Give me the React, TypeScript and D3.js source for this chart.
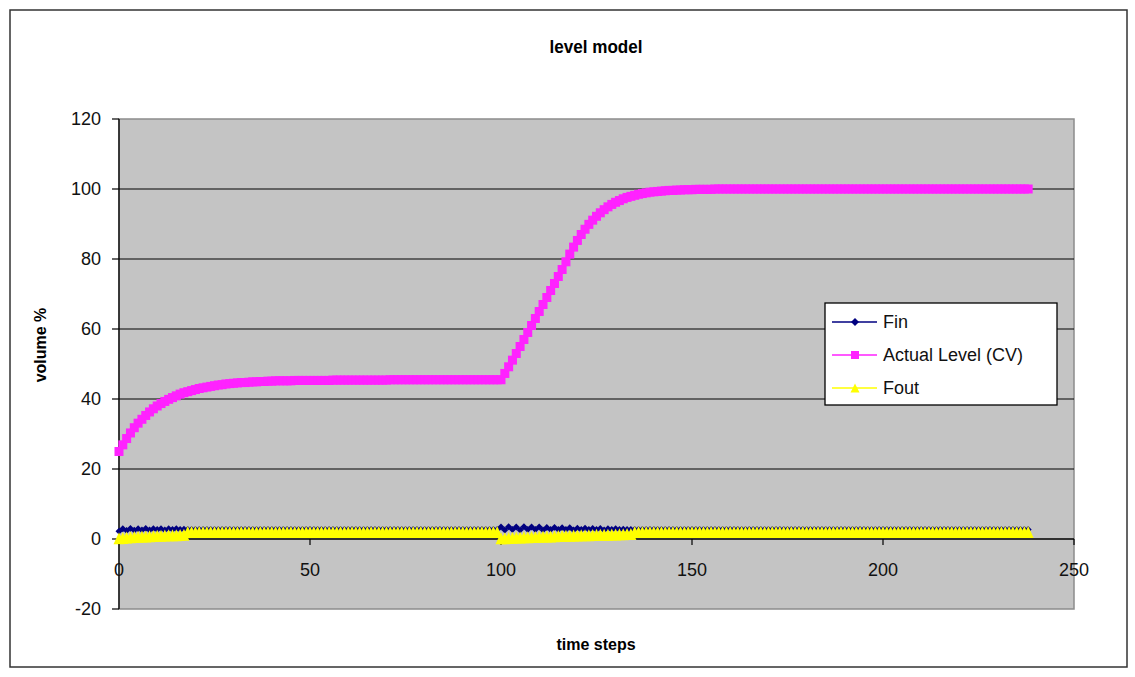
import * as d3 from "d3";

// time steps 0..238, one value per step
const levelValues = [
  25.0, 26.9, 28.7, 30.3, 31.8, 33.1, 34.2, 35.3, 36.3, 37.2,
  38.0, 38.7, 39.3, 39.9, 40.4, 40.9, 41.4, 41.8, 42.1, 42.4,
  42.7, 43.0, 43.2, 43.4, 43.6, 43.8, 44.0, 44.1, 44.3, 44.4,
  44.5, 44.6, 44.7, 44.7, 44.8, 44.9, 44.9, 45.0, 45.0, 45.1,
  45.1, 45.2, 45.2, 45.2, 45.2, 45.2, 45.3, 45.3, 45.3, 45.3,
  45.3, 45.3, 45.3, 45.3, 45.3, 45.3, 45.4, 45.4, 45.4, 45.4,
  45.4, 45.4, 45.4, 45.4, 45.4, 45.4, 45.4, 45.4, 45.4, 45.4,
  45.4, 45.5, 45.5, 45.5, 45.5, 45.5, 45.5, 45.5, 45.5, 45.5,
  45.5, 45.5, 45.5, 45.5, 45.5, 45.5, 45.5, 45.5, 45.5, 45.5,
  45.5, 45.5, 45.5, 45.5, 45.5, 45.5, 45.5, 45.5, 45.5, 45.5,
  45.5, 47.3, 49.2, 51.1, 53.0, 55.0, 57.0, 59.0, 61.0, 63.0,
  65.0, 67.0, 69.0, 71.0, 73.0, 75.0, 77.0, 79.2, 81.4, 83.4,
  85.3, 87.0, 88.5, 89.9, 91.1, 92.2, 93.2, 94.1, 94.9, 95.6,
  96.2, 96.7, 97.2, 97.6, 97.9, 98.2, 98.5, 98.7, 98.9, 99.1,
  99.2, 99.3, 99.4, 99.5, 99.6, 99.6, 99.7, 99.7, 99.8, 99.8,
  99.8, 99.9, 99.9, 99.9, 99.9, 99.9, 100, 100, 100, 100,
  100, 100, 100, 100, 100, 100, 100, 100, 100, 100,
  100, 100, 100, 100, 100, 100, 100, 100, 100, 100,
  100, 100, 100, 100, 100, 100, 100, 100, 100, 100,
  100, 100, 100, 100, 100, 100, 100, 100, 100, 100,
  100, 100, 100, 100, 100, 100, 100, 100, 100, 100,
  100, 100, 100, 100, 100, 100, 100, 100, 100, 100,
  100, 100, 100, 100, 100, 100, 100, 100, 100, 100,
  100, 100, 100, 100, 100, 100, 100, 100, 100,
];

const finValues = [
  2.2, 2.9, 2.4, 3.0, 2.5, 2.9, 2.6, 3.0, 2.6, 2.9,
  2.7, 2.9, 2.6, 2.9, 2.7, 2.9, 2.7, 2.8, 2.7, 2.7,
  2.7, 2.7, 2.7, 2.7, 2.7, 2.7, 2.7, 2.7, 2.7, 2.7,
  2.7, 2.7, 2.7, 2.7, 2.7, 2.7, 2.7, 2.7, 2.7, 2.7,
  2.7, 2.7, 2.7, 2.7, 2.7, 2.7, 2.7, 2.7, 2.7, 2.7,
  2.7, 2.7, 2.7, 2.7, 2.7, 2.7, 2.7, 2.7, 2.7, 2.7,
  2.7, 2.7, 2.7, 2.7, 2.7, 2.7, 2.7, 2.7, 2.7, 2.7,
  2.7, 2.7, 2.7, 2.7, 2.7, 2.7, 2.7, 2.7, 2.7, 2.7,
  2.7, 2.7, 2.7, 2.7, 2.7, 2.7, 2.7, 2.7, 2.7, 2.7,
  2.7, 2.7, 2.7, 2.7, 2.7, 2.7, 2.7, 2.7, 2.7, 2.7,
  3.4, 2.6, 3.5, 2.7, 3.4, 2.6, 3.5, 2.7, 3.4, 2.7,
  3.4, 2.6, 3.3, 2.7, 3.3, 2.7, 3.2, 2.7, 3.2, 2.6,
  3.1, 2.7, 3.1, 2.7, 3.0, 2.7, 3.0, 2.6, 2.9, 2.7,
  2.9, 2.7, 2.8, 2.7, 2.7, 2.7, 2.7, 2.7, 2.7, 2.7,
  2.7, 2.7, 2.7, 2.7, 2.7, 2.7, 2.7, 2.7, 2.7, 2.7,
  2.7, 2.7, 2.7, 2.7, 2.7, 2.7, 2.7, 2.7, 2.7, 2.7,
  2.7, 2.7, 2.7, 2.7, 2.7, 2.7, 2.7, 2.7, 2.7, 2.7,
  2.7, 2.7, 2.7, 2.7, 2.7, 2.7, 2.7, 2.7, 2.7, 2.7,
  2.7, 2.7, 2.7, 2.7, 2.7, 2.7, 2.7, 2.7, 2.7, 2.7,
  2.7, 2.7, 2.7, 2.7, 2.7, 2.7, 2.7, 2.7, 2.7, 2.7,
  2.7, 2.7, 2.7, 2.7, 2.7, 2.7, 2.7, 2.7, 2.7, 2.7,
  2.7, 2.7, 2.7, 2.7, 2.7, 2.7, 2.7, 2.7, 2.7, 2.7,
  2.7, 2.7, 2.7, 2.7, 2.7, 2.7, 2.7, 2.7, 2.7, 2.7,
  2.7, 2.7, 2.7, 2.7, 2.7, 2.7, 2.7, 2.7, 2.7,
];

const foutValues = [
  0.2, 0.3, 0.4, 0.5, 0.6, 0.65, 0.7, 0.75, 0.8, 0.85,
  0.9, 0.95, 1.0, 1.05, 1.1, 1.1, 1.15, 1.2, 2.0, 2.0,
  2.0, 2.0, 2.0, 2.0, 2.0, 2.0, 2.0, 2.0, 2.0, 2.0,
  2.0, 2.0, 2.0, 2.0, 2.0, 2.0, 2.0, 2.0, 2.0, 2.0,
  2.0, 2.0, 2.0, 2.0, 2.0, 2.0, 2.0, 2.0, 2.0, 2.0,
  2.0, 2.0, 2.0, 2.0, 2.0, 2.0, 2.0, 2.0, 2.0, 2.0,
  2.0, 2.0, 2.0, 2.0, 2.0, 2.0, 2.0, 2.0, 2.0, 2.0,
  2.0, 2.0, 2.0, 2.0, 2.0, 2.0, 2.0, 2.0, 2.0, 2.0,
  2.0, 2.0, 2.0, 2.0, 2.0, 2.0, 2.0, 2.0, 2.0, 2.0,
  2.0, 2.0, 2.0, 2.0, 2.0, 2.0, 2.0, 2.0, 2.0, 2.0,
  0.2, 0.25, 0.3, 0.35, 0.4, 0.45, 0.5, 0.5, 0.55, 0.6,
  0.65, 0.7, 0.7, 0.75, 0.8, 0.85, 0.9, 0.9, 0.95, 1.0,
  1.0, 1.05, 1.1, 1.1, 1.15, 1.2, 1.2, 1.25, 1.25, 1.3,
  1.3, 1.35, 1.35, 1.4, 1.4, 2.0, 2.0, 2.0, 2.0, 2.0,
  2.0, 2.0, 2.0, 2.0, 2.0, 2.0, 2.0, 2.0, 2.0, 2.0,
  2.0, 2.0, 2.0, 2.0, 2.0, 2.0, 2.0, 2.0, 2.0, 2.0,
  2.0, 2.0, 2.0, 2.0, 2.0, 2.0, 2.0, 2.0, 2.0, 2.0,
  2.0, 2.0, 2.0, 2.0, 2.0, 2.0, 2.0, 2.0, 2.0, 2.0,
  2.0, 2.0, 2.0, 2.0, 2.0, 2.0, 2.0, 2.0, 2.0, 2.0,
  2.0, 2.0, 2.0, 2.0, 2.0, 2.0, 2.0, 2.0, 2.0, 2.0,
  2.0, 2.0, 2.0, 2.0, 2.0, 2.0, 2.0, 2.0, 2.0, 2.0,
  2.0, 2.0, 2.0, 2.0, 2.0, 2.0, 2.0, 2.0, 2.0, 2.0,
  2.0, 2.0, 2.0, 2.0, 2.0, 2.0, 2.0, 2.0, 2.0, 2.0,
  2.0, 2.0, 2.0, 2.0, 2.0, 2.0, 2.0, 2.0, 2.0,
];

const xTicks = [0, 50, 100, 150, 200, 250];
const yTicks = [-20, 0, 20, 40, 60, 80, 100, 120];
const gridValues = [20, 40, 60, 80, 100];
const legendNames = ["Fin", "Actual Level (CV)", "Fout"];

const W = 1135;
const H = 677;
const FONT = "'Liberation Sans', Arial, sans-serif";

const NAVY = "#000080";
const MAGENTA = "#ff22ff";
const YELLOW = "#ffff00";

const x = d3.scaleLinear().domain([0, 250]).range([119, 1074]);
const y = d3.scaleLinear().domain([-20, 120]).range([609, 119]);

function linePath(values: number[]) {
  return d3
    .line<number>()
    .x((_, i) => x(i))
    .y((d) => y(d))(values) as string;
}

const diamond = (cx: number, cy: number, r: number) =>
  `M${cx},${cy - r}L${cx + r},${cy}L${cx},${cy + r}L${cx - r},${cy}Z`;
const triangle = (cx: number, cy: number, w: number, h: number) =>
  `M${cx},${cy - h / 2}L${cx + w / 2},${cy + h / 2}L${cx - w / 2},${cy + h / 2}Z`;

export default function App() {
  const legendX = 825;
  const legendY = 303;
  const rowYs = [322, 355, 388];

  return (
    <svg
      width={W}
      height={H}
      style={{ position: "absolute", left: 0, top: 0, background: "#fff" }}
      fontFamily={FONT}
    >
      {/* chart border */}
      <rect x={10} y={10} width={1117} height={657} fill="#fff" stroke="#333" strokeWidth={1.5} />

      <text x={596} y={53} textAnchor="middle" fontSize={18} fontWeight="bold" transform="translate(596,0) scale(0.95,1) translate(-596,0)">
        level model
      </text>

      {/* plot area */}
      <rect x={x(0)} y={y(120)} width={x(250) - x(0)} height={y(-20) - y(120)} fill="#c4c4c4" stroke="#8c8c8c" strokeWidth={1.5} />

      {gridValues.map((v) => (
        <line key={v} x1={x(0)} x2={x(250)} y1={y(v)} y2={y(v)} stroke="#000" strokeWidth={1.2} />
      ))}

      {/* y axis */}
      <line x1={x(0)} x2={x(0)} y1={y(120)} y2={y(-20)} stroke="#000" strokeWidth={1.3} />
      {yTicks.map((v) => (
        <g key={v}>
          <line x1={x(0) - 7} x2={x(0)} y1={y(v)} y2={y(v)} stroke="#000" strokeWidth={1.2} />
          <text x={101} y={y(v)} dy="0.35em" textAnchor="end" fontSize={18} fill="#111">
            {v}
          </text>
        </g>
      ))}

      {/* x axis at zero */}
      <line x1={x(0)} x2={x(250)} y1={y(0)} y2={y(0)} stroke="#000" strokeWidth={1.3} />
      {xTicks.map((v) => (
        <g key={v}>
          <line x1={x(v)} x2={x(v)} y1={y(0)} y2={y(0) + 6} stroke="#000" strokeWidth={1.2} />
          <text x={x(v)} y={576} textAnchor="middle" fontSize={18} fill="#111">
            {v}
          </text>
        </g>
      ))}

      {/* Fin */}
      <path d={linePath(finValues)} fill="none" stroke={NAVY} strokeWidth={1.5} />
      {finValues.map((v, i) => (
        <path key={"f" + i} d={diamond(x(i), y(v), 3.5)} fill={NAVY} />
      ))}

      {/* Actual Level */}
      <path d={linePath(levelValues)} fill="none" stroke={MAGENTA} strokeWidth={3} />
      {levelValues.map((v, i) => (
        <rect key={"l" + i} x={x(i) - 4.5} y={y(v) - 4.5} width={9} height={9} fill={MAGENTA} />
      ))}

      {/* Fout */}
      <path d={linePath(foutValues)} fill="none" stroke={YELLOW} strokeWidth={1.5} />
      {foutValues.map((v, i) => (
        <path key={"o" + i} d={triangle(x(i), y(v), 11, 12)} fill={YELLOW} />
      ))}

      {/* legend */}
      <rect x={legendX} y={legendY} width={232} height={102} fill="#fff" stroke="#000" strokeWidth={1.3} />
      {legendNames.map((name, i) => {
        const ry = rowYs[i];
        const col = [NAVY, MAGENTA, YELLOW][i];
        return (
          <g key={name}>
            <line x1={832} x2={877} y1={ry} y2={ry} stroke={col} strokeWidth={1.5} />
            {i === 0 && <path d={diamond(855, ry, 4)} fill={NAVY} />}
            {i === 1 && <rect x={851} y={ry - 4} width={8} height={8} fill={MAGENTA} />}
            {i === 2 && <path d={triangle(855, ry, 9, 9)} fill={YELLOW} />}
            <text x={883} y={ry} dy="0.35em" fontSize={18} fill="#111">
              {name}
            </text>
          </g>
        );
      })}

      {/* axis titles */}
      <text x={596} y={650} textAnchor="middle" fontSize={16} fontWeight="bold">
        time steps
      </text>
      <text
        transform={`translate(46,345) rotate(-90)`}
        textAnchor="middle"
        fontSize={16}
        fontWeight="bold"
      >
        volume %
      </text>
    </svg>
  );
}
